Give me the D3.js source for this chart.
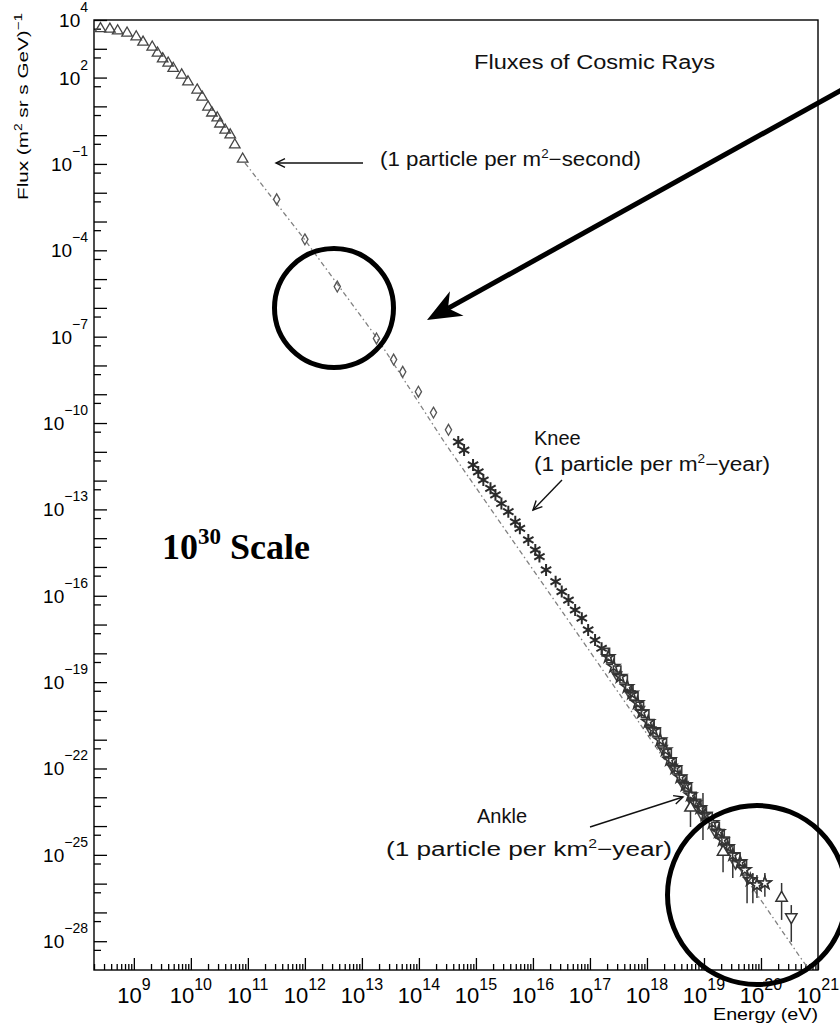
<!DOCTYPE html>
<html><head><meta charset="utf-8">
<script src="https://cdn.jsdelivr.net/npm/d3@7"></script>
<style>html,body{margin:0;padding:0;background:#fff;} svg{display:block;}</style>
</head><body><svg id="c" width="840" height="1026"></svg>
<script>
// ---------------- DATA (energy in eV, flux in (m^2 sr s GeV)^-1) ----------------
const triEnergy = [2.6e8, 3.8e8, 5.2e8, 7.6e8, 1.1e9, 1.45e9, 2.1e9, 2.6e9, 3.2e9, 4.0e9, 4.9e9, 6.9e9, 8.9e9, 1.29e10, 1.58e10, 2.0e10, 2.34e10, 2.9e10, 3.24e10, 4.0e10, 4.9e10, 5.9e10, 8.1e10];
const triFlux   = [5.0e3, 4.8e3, 4.2e3, 3.5e3, 2.6e3, 1.7e3, 1.15e3, 7.1e2, 4.5e2, 3.2e2, 2.1e2, 1.23e2, 71, 37, 21, 9.5, 5.9, 4.0, 2.45, 1.5, 1.02, 0.46, 0.148];

const diaEnergy = [3.2e11, 1.0e12, 3.7e12, 1.8e13, 3.6e13, 5.2e13, 9.8e13, 1.8e14, 3.3e14];
const diaFlux   = [5.9e-3, 2.4e-4, 5.5e-6, 8.7e-8, 1.6e-8, 6.0e-9, 1.23e-9, 2.3e-10, 5.8e-11];

const astEnergy = [4.9e14, 6.2e14, 8.9e14, 1.1e15, 1.35e15, 1.8e15, 2.2e15, 2.8e15, 3.7e15, 4.9e15, 5.9e15, 8.3e15, 1.1e16, 1.3e16, 1.7e16, 2.5e16, 3.2e16, 4.2e16, 5.5e16, 7.2e16, 9.3e16, 1.23e17, 1.6e17];
const astFlux   = [2.2e-11, 1.15e-11, 3.5e-12, 2.0e-12, 1.05e-12, 5.4e-13, 3.2e-13, 1.6e-13, 8.3e-14, 3.7e-14, 2.2e-14, 8.7e-15, 3.9e-15, 2.3e-15, 7.9e-16, 3.1e-16, 1.4e-16, 7.1e-17, 3.2e-17, 1.66e-17, 6.5e-18, 2.9e-18, 1.5e-18];

const starEnergy = [2.1e17, 2.6e17, 3.4e17, 4.5e17, 5.4e17, 6.8e17, 8.1e17, 1.05e18, 1.3e18, 1.7e18, 2.1e18, 2.5e18, 3.1e18, 3.8e18, 4.7e18, 5.8e18, 6.9e18, 8.5e18, 1.05e19, 1.4e19, 1.8e19, 2.1e19, 2.6e19, 3.2e19, 4.3e19, 5.2e19, 6.5e19, 8.5e19, 1.17e20];
const starFlux   = [7.6e-19, 3.5e-19, 1.55e-19, 6.9e-20, 4.1e-20, 1.9e-20, 9.1e-21, 4.2e-21, 2.2e-21, 9.8e-22, 4.4e-22, 2.0e-22, 1.05e-22, 5.1e-23, 2.7e-23, 1.2e-23, 6.3e-24, 4.3e-24, 2.5e-24, 1.3e-24, 6.3e-25, 3.3e-25, 1.9e-25, 1.0e-25, 5.6e-26, 3.0e-26, 1.35e-26, 8.9e-27, 1.05e-26];

const sqEnergy = [1.9e17, 2.3e17, 3.0e17, 3.9e17, 4.9e17, 6.0e17, 7.5e17, 9.3e17, 1.15e18, 1.48e18, 1.9e18, 2.3e18, 2.8e18, 3.5e18, 4.3e18, 5.2e18, 6.3e18, 7.6e18, 9.5e18, 1.2e19, 1.6e19, 1.95e19, 2.4e19, 2.9e19, 3.7e19, 4.8e19];
const sqFlux   = [1.1e-18, 6.3e-19, 2.7e-19, 1.26e-19, 5.9e-20, 3.2e-20, 1.5e-20, 7.9e-21, 3.7e-21, 1.78e-21, 8.1e-22, 3.5e-22, 1.7e-22, 8.9e-23, 4.3e-23, 2.2e-23, 1.1e-23, 6.3e-24, 3.6e-24, 2.2e-24, 1.0e-24, 5.6e-25, 3.1e-25, 1.66e-25, 8.5e-26, 5.0e-26];

const dtEnergy = [2.95e17, 5.0e17, 7.4e17, 1.17e18, 1.86e18, 2.8e18, 4.3e18, 6.3e18, 9.5e18, 1.58e19, 2.4e19, 3.6e19, 5.8e19];
const dtFlux   = [1.78e-19, 4.0e-20, 1.12e-20, 2.2e-21, 5.0e-22, 1.12e-22, 2.8e-23, 6.3e-24, 2.2e-24, 6.3e-25, 1.78e-25, 5.0e-26, 1.58e-26];

// points with error bars (high-energy end)
const errEnergy = [5.8e18, 9.6e18, 2.16e19, 3.2e19, 5.7e19, 7.2e19, 8.5e19, 1.17e20, 2.3e20, 3.4e20];
const errFlux   = [4.3e-24, 2.5e-24, 1.26e-25, 4.5e-26, 8.9e-27, 8.9e-27, 8.9e-27, 1.05e-26, 3.2e-27, 6.9e-28];
const errHigh   = [1.0e-23, 1.4e-23, 1.8e-25, 8.5e-26, 3.0e-26, 2.35e-26, 2.0e-26, 2.35e-26, 1.05e-26, 1.8e-27];
const errLow    = [9.3e-25, 3.3e-25, 2.5e-26, 1.58e-26, 2.1e-27, 2.1e-27, 3.2e-27, 3.5e-27, 5.5e-28, 9.5e-29];
const errMarker = ["tri", "none", "tri", "none", "none", "none", "star", "star", "tri", "dtri"];

// reference power-law line (dash-dot)
const lineEnergy = [8.9e10, 1.0e12, 1.84e13, 2.87e14, 3.6e17, 4.85e20, 6.7e20];
const lineFlux   = [0.108, 2.3e-4, 9.0e-8, 2.0e-11, 3.0e-20, 2.8e-29, 1.17e-29];

// axes
const xTickExps = [9, 10, 11, 12, 13, 14, 15, 16, 17, 18, 19, 20, 21];
const yTickExps = [4, 2, -1, -4, -7, -10, -13, -16, -19, -22, -25, -28];

// ---------------- DRAW ----------------
const svg = d3.select("#c");
const P = {l: 94, r: 818, t: 20, b: 970};
const x = d3.scaleLog().domain([2e8, 1e21]).range([P.l, P.r]);
const y = d3.scaleLog().domain([1e-29, 1e4]).range([P.b, P.t]);
const FONT = "'Liberation Sans', Arial, Helvetica, sans-serif";

svg.append("rect").attr("width", 840).attr("height", 1026).attr("fill", "#fff");
svg.append("defs").append("clipPath").attr("id", "clip")
  .append("rect").attr("x", P.l).attr("y", P.t).attr("width", P.r - P.l).attr("height", P.b - P.t);

// x ticks
const xMinor = [];
for (let d = 8; d <= 20; d++) for (let k = 2; k <= 9; k++) { const v = k * Math.pow(10, d); if (v >= 2e8 && v < 1e21) xMinor.push(v); }
const xMajor = xTickExps.map(e => Math.pow(10, e));
function styleAxis(g) { g.select(".domain").remove(); g.selectAll("line").attr("stroke", "#000").attr("stroke-width", 1.3); }
svg.append("g").attr("transform", `translate(0,${P.b})`)
  .call(d3.axisBottom(x).tickValues(xMinor).tickSize(-6).tickSizeOuter(0).tickFormat(""))
  .call(styleAxis);
svg.append("g").attr("transform", `translate(0,${P.b})`)
  .call(d3.axisBottom(x).tickValues(xMajor).tickSize(-12).tickSizeOuter(0).tickFormat(""))
  .call(styleAxis);

// y ticks
const yMajor = d3.range(-28, 5).map(e => Math.pow(10, e));
const yMinor = d3.range(-28, 5).map(e => 5 * Math.pow(10, e - 1));
svg.append("g").attr("transform", `translate(${P.l},0)`)
  .call(d3.axisLeft(y).tickValues(yMajor).tickSize(-13).tickSizeOuter(0).tickFormat(""))
  .call(styleAxis);
svg.append("g").attr("transform", `translate(${P.l},0)`)
  .call(d3.axisLeft(y).tickValues(yMinor).tickSize(-7).tickSizeOuter(0).tickFormat(""))
  .call(styleAxis);

// frame
svg.append("rect").attr("x", P.l).attr("y", P.t).attr("width", P.r - P.l).attr("height", P.b - P.t)
  .attr("fill", "none").attr("stroke", "#000").attr("stroke-width", 1.4);

// x tick labels
xTickExps.forEach(e => {
  const t = svg.append("text").attr("x", x(Math.pow(10, e))).attr("y", 1003)
    .attr("text-anchor", "middle").attr("font-family", FONT).attr("fill", "#000");
  t.append("tspan").attr("font-size", 22).text("10");
  t.append("tspan").attr("font-size", 16).attr("dy", -13).text(String(e));
});
// y tick labels
yTickExps.forEach(e => {
  const ty = y(Math.pow(10, e));
  const t = svg.append("text").attr("x", 88).attr("y", ty + 7)
    .attr("text-anchor", "end").attr("font-family", FONT).attr("fill", "#000");
  t.append("tspan").attr("font-size", 19).text("10");
  t.append("tspan").attr("font-size", 14).attr("dy", -15).text(e < 0 ? "\u2212" + Math.abs(e) : String(e));
});

// axis titles
svg.append("text").attr("x", 713).attr("y", 1020).attr("font-family", FONT).attr("font-size", 16)
  .attr("textLength", 105).attr("lengthAdjust", "spacingAndGlyphs").text("Energy (eV)");
const yt = svg.append("text").attr("transform", "translate(28,200) rotate(-90)")
  .attr("font-family", FONT).attr("font-size", 15).attr("textLength", 187).attr("lengthAdjust", "spacingAndGlyphs");
yt.append("tspan").text("Flux (m");
yt.append("tspan").attr("font-size", 10).attr("dy", -6).text("2");
yt.append("tspan").attr("dy", 6).text(" sr s GeV)");
yt.append("tspan").attr("font-size", 11).attr("dy", -6).text("\u22121");

// plot contents
const plotG = svg.append("g").attr("clip-path", "url(#clip)");

const lineGen = d3.line().x(d => x(d[0])).y(d => y(d[1]));
plotG.append("path").datum(d3.zip(lineEnergy, lineFlux)).attr("d", lineGen)
  .attr("fill", "none").attr("stroke", "#808080").attr("stroke-width", 1.3)
  .attr("stroke-dasharray", "5,3,1.5,3");

function markers(es, fs, type, size, stroke, sw, rot) {
  plotG.append("g").selectAll("path").data(d3.zip(es, fs)).join("path")
    .attr("transform", d => `translate(${x(d[0])},${y(d[1])})` + (rot ? ` rotate(${rot})` : ""))
    .attr("d", d3.symbol().type(type).size(size))
    .attr("fill", "none").attr("stroke", stroke).attr("stroke-width", sw);
}
const asterisk = d3.symbolAsterisk || d3.symbolCross;

markers(triEnergy, triFlux, d3.symbolTriangle, 48, "#444", 1.3);
markers(diaEnergy, diaFlux, d3.symbolDiamond, 34, "#555", 1.3);
markers(astEnergy, astFlux, asterisk, 100, "#2a2a2a", 2);
markers(sqEnergy, sqFlux, d3.symbolSquare, 56, "#3a3a3a", 1.6);
markers(dtEnergy, dtFlux, d3.symbolTriangle, 44, "#444", 1.5, 180);
markers(starEnergy, starFlux, d3.symbolStar, 46, "#333", 1.6);

// error bars
const errData = d3.range(errEnergy.length).map(i => ({e: errEnergy[i], f: errFlux[i], hi: errHigh[i], lo: errLow[i], m: errMarker[i]}));
plotG.append("g").selectAll("line").data(errData).join("line")
  .attr("x1", d => x(d.e)).attr("x2", d => x(d.e)).attr("y1", d => y(d.hi)).attr("y2", d => y(d.lo))
  .attr("stroke", "#333").attr("stroke-width", 1.5);
const symType = {tri: d3.symbolTriangle, dtri: d3.symbolTriangle, star: d3.symbolStar};
plotG.append("g").selectAll("path").data(errData.filter(d => d.m !== "none")).join("path")
  .attr("transform", d => `translate(${x(d.e)},${y(d.f)})` + (d.m === "dtri" ? " rotate(180)" : ""))
  .attr("d", d => d3.symbol().type(symType[d.m]).size(d.m === "star" ? 46 : 56)())
  .attr("fill", "#fff").attr("stroke", "#333").attr("stroke-width", 1.5);

// ---------------- ANNOTATIONS ----------------
function ann(xp, yp, size, len, parts) {
  const t = svg.append("text").attr("x", xp).attr("y", yp).attr("font-family", FONT)
    .attr("font-size", size).attr("fill", "#111");
  if (len) t.attr("textLength", len).attr("lengthAdjust", "spacingAndGlyphs");
  parts.forEach(p => {
    const s = t.append("tspan").text(p.t);
    if (p.sup) s.attr("font-size", size * 0.6).attr("dy", -size * 0.38);
    if (p.back) s.attr("dy", size * 0.38);
  });
  return t;
}
ann(474, 69, 20, 241, [{t: "Fluxes of Cosmic Rays"}]);
ann(380, 166, 20, 261, [{t: "(1 particle per m"}, {t: "2", sup: true}, {t: "\u2212second)", back: true}]);
ann(534, 445, 20, null, [{t: "Knee"}]);
ann(534, 471, 20, 236, [{t: "(1 particle per m"}, {t: "2", sup: true}, {t: "\u2212year)", back: true}]);
ann(477, 823, 20, null, [{t: "Ankle"}]);
ann(386, 856, 20, 286, [{t: "(1 particle per km"}, {t: "2", sup: true}, {t: "\u2212year)", back: true}]);

function thinArrow(x1, y1, x2, y2) {
  const g = svg.append("g").attr("stroke", "#111").attr("stroke-width", 1.4).attr("fill", "none");
  g.append("line").attr("x1", x1).attr("y1", y1).attr("x2", x2).attr("y2", y2);
  const a = Math.atan2(y1 - y2, x1 - x2), L = 10, w = 0.45;
  g.append("path").attr("d", `M${x2 + L * Math.cos(a + w)},${y2 + L * Math.sin(a + w)} L${x2},${y2} L${x2 + L * Math.cos(a - w)},${y2 + L * Math.sin(a - w)}`);
}
thinArrow(363, 163, 276, 163);
thinArrow(562, 480, 533, 510);
thinArrow(590, 827, 683, 797);

// big hand-drawn overlay: arrow and circles
const tip = [427, 320], start = [845, 88];
const ang = Math.atan2(start[1] - tip[1], start[0] - tip[0]);
const ux = Math.cos(ang), uy = Math.sin(ang), px = -uy, py = ux;
const headL = 34, headW = 14, notch = 24;
svg.append("line").attr("x1", start[0]).attr("y1", start[1])
  .attr("x2", tip[0] + ux * notch).attr("y2", tip[1] + uy * notch)
  .attr("stroke", "#000").attr("stroke-width", 5);
svg.append("path").attr("d",
  `M${tip[0]},${tip[1]} L${tip[0] + ux * headL + px * headW},${tip[1] + uy * headL + py * headW} L${tip[0] + ux * notch},${tip[1] + uy * notch} L${tip[0] + ux * headL - px * headW},${tip[1] + uy * headL - py * headW} Z`)
  .attr("fill", "#000");
svg.append("circle").attr("cx", 334).attr("cy", 308).attr("r", 59.5).attr("fill", "none").attr("stroke", "#000").attr("stroke-width", 5);
svg.append("circle").attr("cx", 757).attr("cy", 895).attr("r", 89.5).attr("fill", "none").attr("stroke", "#000").attr("stroke-width", 5);

// "10^30 Scale"
const sc = svg.append("text").attr("x", 162).attr("y", 559)
  .attr("font-family", "'Liberation Serif', 'Times New Roman', serif").attr("font-weight", "bold").attr("font-size", 36);
sc.append("tspan").text("10");
sc.append("tspan").attr("font-size", 23).attr("dy", -15).text("30");
sc.append("tspan").attr("dy", 15).text(" Scale");
</script></body></html>
